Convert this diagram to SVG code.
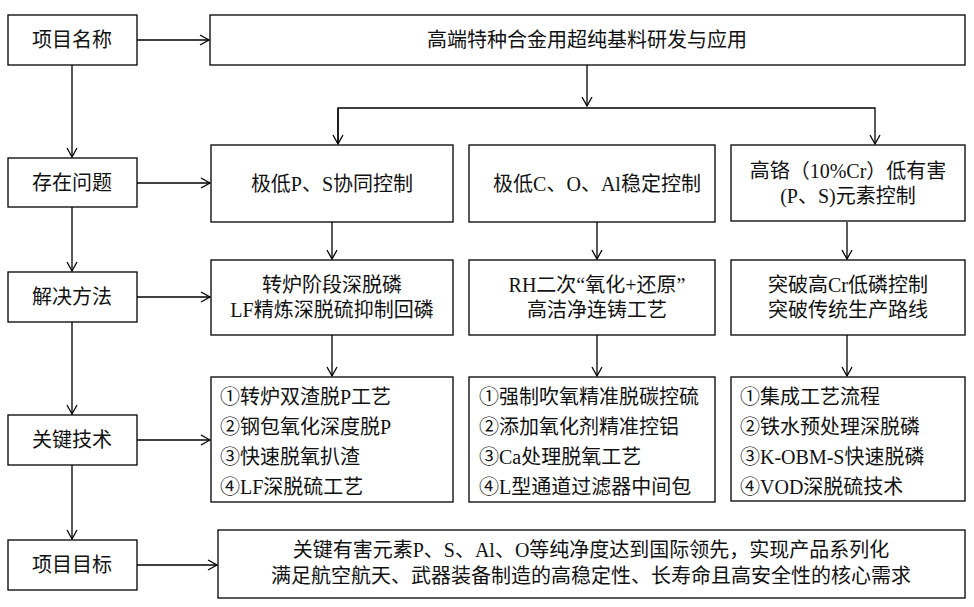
<svg xmlns="http://www.w3.org/2000/svg" width="974" height="607" viewBox="0 0 974 607">
<style>
rect{fill:#fff;stroke:#000;stroke-width:1.3}
text{font-family:"Liberation Serif","Noto Sans CJK SC",serif;font-size:20px;fill:#111}
.c{text-anchor:middle}
#conn line,#conn polyline{stroke:#000;stroke-width:1.3;fill:none}
</style>
<defs><marker id="a" markerWidth="12" markerHeight="12" refX="10" refY="6" orient="auto" markerUnits="userSpaceOnUse"><path d="M1,1 L10,6 L1,11" fill="none" stroke="#000" stroke-width="1.3"/></marker></defs>
<rect x="0" y="0" width="974" height="607" style="stroke:none"/>
<g id="conn">
<line x1="72" y1="65" x2="72" y2="157" marker-end="url(#a)"/>
<line x1="72" y1="207" x2="72" y2="271" marker-end="url(#a)"/>
<line x1="72" y1="322" x2="72" y2="414" marker-end="url(#a)"/>
<line x1="72" y1="465" x2="72" y2="539" marker-end="url(#a)"/>
<line x1="137" y1="40" x2="209" y2="40" marker-end="url(#a)"/>
<line x1="137" y1="183" x2="210" y2="183" marker-end="url(#a)"/>
<line x1="137" y1="297" x2="210" y2="297" marker-end="url(#a)"/>
<line x1="137" y1="440" x2="210" y2="440" marker-end="url(#a)"/>
<line x1="137" y1="565" x2="217" y2="565" marker-end="url(#a)"/>
<line x1="587" y1="65" x2="587" y2="106" marker-end="url(#a)"/>
<polyline points="338,144 338,108 875,108 875,144" style="marker-end:url(#a)"/>
<line x1="338" y1="108" x2="338" y2="144" marker-end="url(#a)"/>
<line x1="332" y1="222" x2="332" y2="259" marker-end="url(#a)"/>
<line x1="597" y1="222" x2="597" y2="259" marker-end="url(#a)"/>
<line x1="847" y1="222" x2="847" y2="259" marker-end="url(#a)"/>
<line x1="332" y1="335" x2="332" y2="376" marker-end="url(#a)"/>
<line x1="597" y1="335" x2="597" y2="376" marker-end="url(#a)"/>
<line x1="847" y1="335" x2="847" y2="376" marker-end="url(#a)"/>
</g>
<g id="l1"><rect x="8" y="15" width="129" height="50"/><text class="c" x="72" y="47">项目名称</text></g>
<g id="l2"><rect x="8" y="158" width="129" height="49"/><text class="c" x="72" y="190">存在问题</text></g>
<g id="l3"><rect x="8" y="272" width="129" height="50"/><text class="c" x="72" y="304">解决方法</text></g>
<g id="l4"><rect x="8" y="415" width="129" height="50"/><text class="c" x="72" y="447">关键技术</text></g>
<g id="l5"><rect x="8" y="540" width="129" height="50"/><text class="c" x="72" y="572">项目目标</text></g>
<g id="top"><rect x="210" y="15" width="755" height="50"/><text class="c" x="587" y="47">高端特种合金用超纯基料研发与应用</text></g>
<g id="p1"><rect x="211" y="145" width="242" height="77"/><text class="c" x="332" y="191">极低P、S协同控制</text></g>
<g id="p2"><rect x="469" y="145" width="246" height="77"/><text class="c" x="597" y="191">极低C、O、Al稳定控制</text></g>
<g id="p3"><rect x="731" y="145" width="234" height="76"/><text class="c" x="848" y="178">高铬（10%Cr）低有害</text><text class="c" x="848" y="203">(P、S)元素控制</text></g>
<g id="m1"><rect x="211" y="260" width="242" height="75"/><text class="c" x="332" y="292">转炉阶段深脱磷</text><text class="c" x="332" y="317">LF精炼深脱硫抑制回磷</text></g>
<g id="m2"><rect x="469" y="260" width="246" height="75"/><text class="c" x="597" y="292">RH二次“氧化+还原”</text><text class="c" x="597" y="317">高洁净连铸工艺</text></g>
<g id="m3"><rect x="731" y="260" width="234" height="75"/><text class="c" x="848" y="292">突破高Cr低磷控制</text><text class="c" x="848" y="317">突破传统生产路线</text></g>
<g id="k1"><rect x="211" y="377" width="242" height="125"/><text x="220" y="404">①转炉双渣脱P工艺</text><text x="220" y="434">②钢包氧化深度脱P</text><text x="220" y="464">③快速脱氧扒渣</text><text x="220" y="494">④LF深脱硫工艺</text></g>
<g id="k2"><rect x="469" y="377" width="246" height="125"/><text x="479" y="404">①强制吹氧精准脱碳控硫</text><text x="479" y="434">②添加氧化剂精准控铝</text><text x="479" y="464">③Ca处理脱氧工艺</text><text x="479" y="494">④L型通道过滤器中间包</text></g>
<g id="k3"><rect x="731" y="377" width="234" height="124"/><text x="740" y="404">①集成工艺流程</text><text x="740" y="434">②铁水预处理深脱磷</text><text x="740" y="464">③K-OBM-S快速脱磷</text><text x="740" y="494">④VOD深脱硫技术</text></g>
<g id="goal"><rect x="218" y="530" width="747" height="68"/><text class="c" x="591" y="557">关键有害元素P、S、Al、O等纯净度达到国际领先，实现产品系列化</text><text class="c" x="591" y="583">满足航空航天、武器装备制造的高稳定性、长寿命且高安全性的核心需求</text></g>
</svg>
